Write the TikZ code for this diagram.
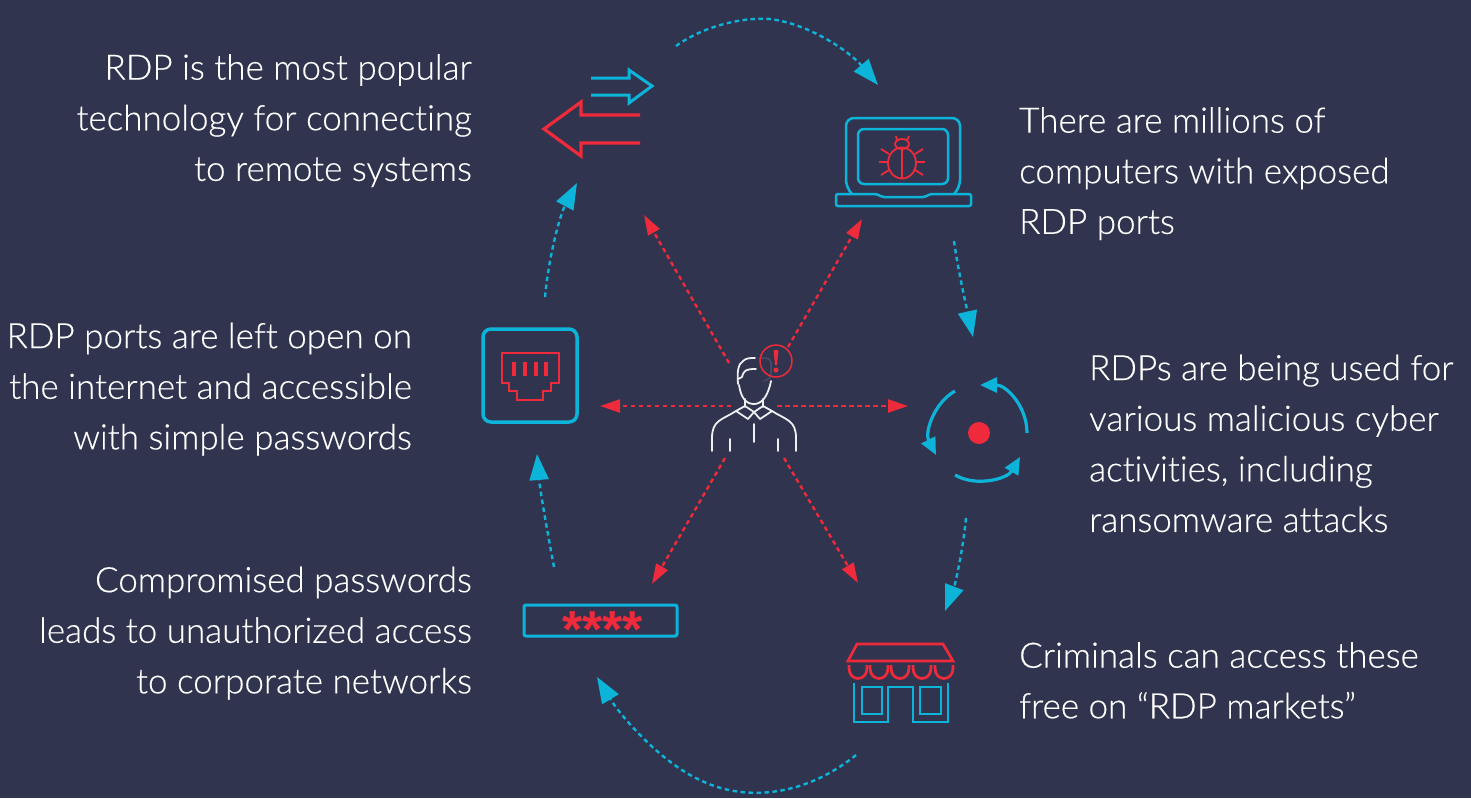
\documentclass[tikz,border=0pt]{standalone}
\usepackage{fontspec}
\setmainfont[Ligatures=NoCommon,FakeBold=0.35]{Lato Light}
\usetikzlibrary{arrows.meta}
\definecolor{bgcol}{HTML}{31344F}
\definecolor{bluecol}{HTML}{0DB4DA}
\definecolor{redcol}{HTML}{EE2A3B}
\definecolor{dimcol}{HTML}{4A4C66}
\tikzset{
    bluearrow/.style={bluecol, line width=2.4pt, dash pattern=on 4.5pt off 3.5pt, -{Triangle[length=26pt,width=19pt]}},
    redarrow/.style={redcol, line width=2.4pt, dash pattern=on 4.5pt off 3.5pt, -{Triangle[length=20pt,width=13pt]}},
    cycarrow/.style={bluecol, line width=3.2pt, -{Triangle[length=17pt,width=15pt]}},
    blueline/.style={bluecol, line width=2.5pt},
    redline/.style={redcol, line width=2.5pt},
    thinred/.style={redcol, line width=1.8pt},
    whiteline/.style={white!92!bgcol, line width=1.8pt, line cap=round, line join=round},
    lefttext/.style={anchor=north east, inner sep=0pt, align=right, white, font=\fontsize{35}{50.6}\selectfont},
    righttext/.style={anchor=north west, inner sep=0pt, align=left, white, font=\fontsize{35}{50.6}\selectfont}
}
\begin{document}
\begin{tikzpicture}[x=1pt,y=-1pt]
        \fill[bgcol] (0,0) rectangle (1471,798);
        \useasboundingbox (0,0) rectangle (1471,798);

        \node (T1) at (472,54) [lefttext] {RDP is the most popular\\technology for connecting\\to remote systems};
        \node (T2) at (1019,107) [righttext] {There are millions of\\computers with exposed\\RDP ports};
        \node (T3) at (1089,354.5) [righttext] {RDPs are being used for\\various malicious cyber\\activities, including\\ransomware attacks};
        \node (T4) at (1019,642) [righttext] {Criminals can access these\\free on “RDP markets”};
        \node (T5) at (472,566.5) [lefttext] {Compromised passwords\\leads to unauthorized access\\to corporate networks};
        \node (T6) at (412,322.5) [lefttext] {RDP ports are left open on\\the internet and accessible\\with simple passwords};

        \coordinate (A) at (676,46);
        \coordinate (A2) at (878,85);
        \coordinate (B) at (954,241);
        \coordinate (B2) at (973,337);
        \coordinate (C) at (966,518);
        \coordinate (C2) at (945,611);
        \coordinate (D) at (856,755);
        \coordinate (D2) at (597,677);
        \coordinate (E) at (554,567);
        \coordinate (E2) at (537,454);
        \coordinate (F) at (545,297);
        \coordinate (F2) at (577,183);

        \draw[bluearrow] (A) .. controls (705,25) and (745,17) .. (770,19) .. controls (810,24) and (850,52) .. (A2);
        \draw[bluearrow] (B) .. controls (958,270) and (966,305) .. (B2);
        \draw[bluearrow] (C) .. controls (963,550) and (955,585) .. (C2);
        \draw[bluearrow] (D) .. controls (800,800) and (740,800) .. (700,780) .. controls (660,762) and (620,715) .. (D2);
        \draw[bluearrow] (E) .. controls (547,530) and (540,490) .. (E2);
        \draw[bluearrow] (F) .. controls (549,255) and (560,215) .. (F2);

        \coordinate (P1) at (729,363);
        \coordinate (P1b) at (644,215);
        \coordinate (P2) at (788,347);
        \coordinate (P2b) at (862,219);
        \coordinate (P3) at (731,406);
        \coordinate (P3b) at (600,406);
        \coordinate (P4) at (777,406);
        \coordinate (P4b) at (908,406);
        \coordinate (P5) at (725,458);
        \coordinate (P5b) at (652,584);
        \coordinate (P6) at (784,458);
        \coordinate (P6b) at (858,583);

        \draw[redarrow] (P1) -- (P1b);
        \draw[redarrow] (P2) -- (P2b);
        \draw[redarrow] (P3) -- (P3b);
        \draw[redarrow] (P4) -- (P4b);
        \draw[redarrow] (P5) -- (P5b);
        \draw[redarrow] (P6) -- (P6b);

        % two arrows, top left
        \draw[blueline, line width=3pt, line join=miter] (591,78) -- (629,78) -- (629,70) -- (652,86) -- (629,103) -- (629,95) -- (591,95);
        \draw[redline, line width=3.2pt] (640,115) -- (581,115) -- (581,102) -- (544,129) -- (581,156) -- (581,143) -- (640,143);

        % laptop
        \draw[blueline, rounded corners=8pt] (852,194) -- (846,188) -- (846,118) -- (960,118) -- (960,188) -- (954,194);
        \draw[blueline, rounded corners=6pt] (858,129) rectangle (948,184);
        \draw[blueline, rounded corners=2pt] (836,194) -- (877,194) -- (882,197) -- (925,197) -- (930,194) -- (971,194) -- (971,206) -- (836,206) -- cycle;
        \draw[thinred] (902,163) ellipse (14 and 15.5);
        \draw[thinred] (902,144) ellipse (7 and 5);
        \draw[thinred] (902,148) -- (902,178);
        \draw[thinred] (897,140) -- (896,136);
        \draw[thinred] (907,140) -- (909,136);
        \draw[thinred] (889,154) -- (881,149);
        \draw[thinred] (888,162) -- (879,162);
        \draw[thinred] (889,170) -- (881,175);
        \draw[thinred] (915,154) -- (923,149);
        \draw[thinred] (916,162) -- (925,162);
        \draw[thinred] (915,170) -- (923,175);

        % circular arrows
        \fill[redcol] (979,433) circle (11);
        \draw[cycarrow] (1027,433) .. controls (1027,406.5) and (1006.5,385) .. (980,385);
        \draw[cycarrow] (955,391) .. controls (933.4,403.5) and (924.6,432.7) .. (936,455);
        \draw[cycarrow] (955,475) .. controls (976.6,487.5) and (1007.5,478.6) .. (1020,457);

        % shop
        \draw[redline, line width=2.7pt] (857,644) -- (943,644) -- (953,661) -- (848,661) -- cycle;
        \foreach \x in {849,870,891,913,935}
            \draw[redline, line width=2.7pt] (\x,665) -- (\x,668) .. controls (\x,682) and ({\x+18},682) .. ({\x+18},668) -- ({\x+18},665);
        \draw[blueline, line width=2.7pt] (854,683) -- (854,722) -- (888,722) -- (888,687) -- (913,687) -- (913,722) -- (948,722) -- (948,683);
        \draw[blueline, line width=2.7pt] (862,687) rectangle (882,714);
        \draw[blueline, line width=2.7pt] (920,687) rectangle (941,714);

        % password field
        \draw[blueline, line width=3pt, rounded corners=2pt] (524,605) rectangle (677,636);
        \node (Pw) at (602.5,630) [inner sep=0pt, redcol] {\fontspec{Liberation Sans Bold}\fontsize{52}{52}\selectfont ****};

        % port
        \draw[blueline, line width=3.5pt, rounded corners=8pt] (483,329) rectangle (577,422);
        \draw[redline] (502,353) -- (559,353) -- (559,383) -- (551,383) -- (551,391) -- (543,391) -- (543,400) -- (517,400) -- (517,391) -- (509,391) -- (509,383) -- (502,383) -- cycle;
        \foreach \x in {514,525,536,546}
            \fill[redcol] ({\x-2},362) rectangle ({\x+2},376);

        % person
        \draw[dimcol, line width=1.5pt, rounded corners=5pt] (759,358) -- (771,358) -- (771,379) -- (767,380);
        \draw[whiteline] (738,384) .. controls (737,372) and (738,364) .. (743,361) .. controls (746,358) and (750,358) .. (755,358);
        \draw[whiteline] (738,379) -- (742,377) .. controls (744,370) and (746,369) .. (756,369);
        \draw[whiteline] (739,385) .. controls (741,398) and (746,404) .. (754,404) .. controls (762,404) and (768,396) .. (771,381);
        \draw[whiteline] (745,399) -- (745,407);
        \draw[whiteline] (763,399) -- (763,407);
        \draw[whiteline] (736,411) -- (745,406) -- (754,412) -- (763,406) -- (772,411);
        \draw[whiteline] (736,411) -- (748,419) -- (754,412) -- (760,419) -- (772,411);
        \draw[whiteline] (736,411) .. controls (722,420) and (712,420) .. (712,438) -- (712,451);
        \draw[whiteline] (772,411) .. controls (786,420) and (796,420) .. (796,438) -- (796,451);
        \draw[whiteline] (754,424) -- (754,442);
        \draw[whiteline] (730,439) -- (730,451);
        \draw[whiteline] (778,439) -- (778,451);
        \draw[thinred, line width=1.5pt] (776,361) circle (16);
        \fill[redcol] (773.5,350) -- (778.5,350) -- (777,365) -- (775,365) -- cycle;
        \fill[redcol] (776,370) circle (2.5);
    \end{tikzpicture}
\end{document}
